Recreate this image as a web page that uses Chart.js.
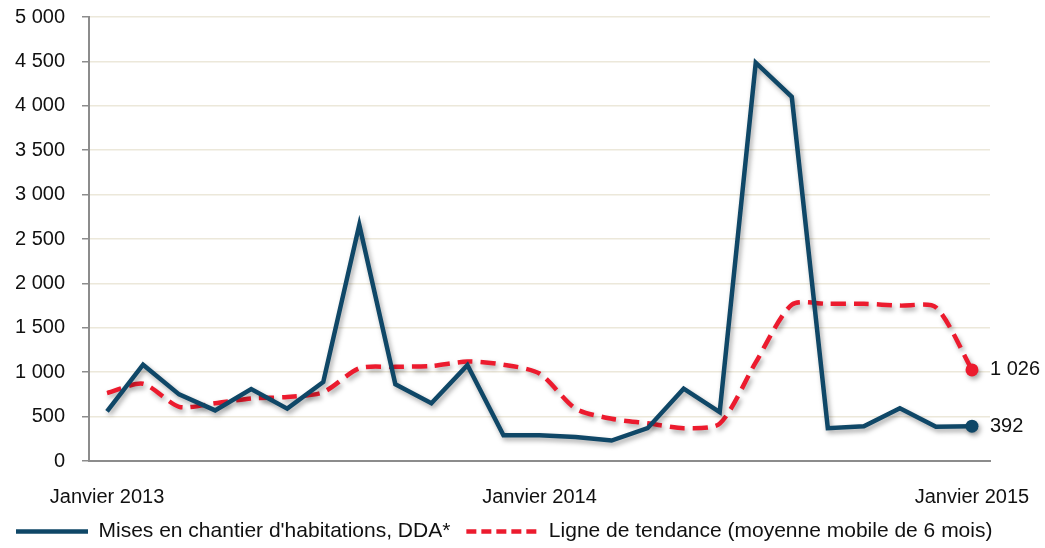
<!DOCTYPE html>
<html lang="fr">
<head>
<meta charset="utf-8">
<title>Mises en chantier d'habitations</title>
<script src="https://cdn.jsdelivr.net/npm/chart.js@4.4.1/dist/chart.umd.min.js"></script>
<style>
  html, body { margin: 0; padding: 0; background: #fff; }
  #cadre { width: 1045px; height: 548px; }
</style>
</head>
<body>
<div id="cadre"><canvas id="graphique" width="1045" height="548"></canvas></div>
<script>
const mois = [
  'Janvier 2013', 'Février 2013', 'Mars 2013', 'Avril 2013', 'Mai 2013', 'Juin 2013',
  'Juillet 2013', 'Août 2013', 'Septembre 2013', 'Octobre 2013', 'Novembre 2013', 'Décembre 2013',
  'Janvier 2014', 'Février 2014', 'Mars 2014', 'Avril 2014', 'Mai 2014', 'Juin 2014',
  'Juillet 2014', 'Août 2014', 'Septembre 2014', 'Octobre 2014', 'Novembre 2014', 'Décembre 2014',
  'Janvier 2015'
]
const misesEnChantier = [560, 1085, 750, 570, 810, 590, 890, 2660, 865, 650, 1080, 290, 290, 270, 230, 370, 815, 550, 4485, 4100, 370, 390, 595, 385, 392]
const tendance = [765, 870, 610, 650, 705, 720, 775, 1045, 1060, 1070, 1120, 1085, 985, 590, 475, 425, 370, 420, 1110, 1760, 1770, 1770, 1750, 1730, 1026]
const libelles = ["Mises en chantier d'habitations, DDA*", 'Ligne de tendance (moyenne mobile de 6 mois)']
const yMin = 0
const yMax = 5000
const yPas = 500

const police = "'Liberation Sans', Arial, Helvetica, sans-serif"
const bleu = '#0f4767'
const rouge = '#ec1b2e'
const texte = '#111111'

function formaterNombre(v) {
  return String(v).replace(/\B(?=(\d{3})+(?!\d))/g, ' ')
}

function dernierPoint(rayon) {
  return (ctx) => ctx.dataIndex === ctx.dataset.data.length - 1 ? rayon : 0
}

// ombre portee sous les courbes
const ombre = {
  id: 'ombre',
  beforeDatasetDraw(chart) {
    const ctx = chart.ctx
    ctx.save()
    ctx.shadowColor = 'rgba(0, 0, 0, 0.35)'
    ctx.shadowBlur = 5
    ctx.shadowOffsetX = 2
    ctx.shadowOffsetY = 3
  },
  afterDatasetDraw(chart) {
    chart.ctx.restore()
  }
}

// valeur de fin a droite de chaque courbe
const etiquettesFin = {
  id: 'etiquettesFin',
  afterDatasetsDraw(chart) {
    const ctx = chart.ctx
    ctx.save()
    ctx.font = '20px ' + police
    ctx.fillStyle = texte
    ctx.textBaseline = 'middle'
    ctx.textAlign = 'left'
    chart.data.datasets.forEach((ds, i) => {
      const meta = chart.getDatasetMeta(i)
      const pt = meta.data[meta.data.length - 1]
      ctx.fillText(formaterNombre(ds.data[ds.data.length - 1]), pt.x + 18, pt.y)
    })
    ctx.restore()
  }
}

Chart.defaults.font.family = police
Chart.defaults.color = texte

const data = {
  labels: mois,
  datasets: [
    {
      label: libelles[0],
      data: misesEnChantier,
      borderColor: bleu,
      backgroundColor: bleu,
      borderWidth: 4.5,
      tension: 0,
      borderJoinStyle: 'miter',
      pointRadius: dernierPoint(6.5),
      pointHoverRadius: 0,
      pointBorderWidth: 0,
      fill: false,
    },
    {
      label: libelles[1],
      data: tendance,
      borderColor: rouge,
      backgroundColor: rouge,
      borderWidth: 4.5,
      borderDash: [15, 8],
      tension: 0.25,
      pointRadius: dernierPoint(6.5),
      pointHoverRadius: 0,
      pointBorderWidth: 0,
      fill: false,
    },
  ],
}

const config = {
  type: 'line',
  data,
  plugins: [ombre, etiquettesFin],
  options: {
    responsive: false,
    animation: false,
    devicePixelRatio: 1,
    layout: {
      padding: { top: 17, right: 0, bottom: -4, left: 0 }
    },
    plugins: {
      tooltip: { enabled: false },
      legend: {
        position: 'bottom',
        align: 'start',
        labels: {
          usePointStyle: true,
          pointStyleWidth: 72,
          padding: 16,
          color: texte,
          font: { size: 21, family: police },
          generateLabels(chart) {
            return chart.data.datasets.map((ds, i) => ({
              text: ds.label,
              datasetIndex: i,
              pointStyle: 'line',
              strokeStyle: ds.borderColor,
              fillStyle: ds.borderColor,
              lineWidth: 4.5,
              lineDash: i === 1 ? [10, 5] : [],
              fontColor: texte,
              hidden: false,
            }))
          }
        }
      }
    },
    scales: {
      x: {
        offset: true,
        grid: { display: true, drawOnChartArea: false, drawTicks: false },
        border: { color: '#8c8c8c', width: 2 },
        ticks: {
          autoSkip: false,
          maxRotation: 0,
          padding: 24,
          color: texte,
          font: { size: 20 },
          callback: (v, i) => mois[i].startsWith('Janvier') ? mois[i] : ''
        },
        afterFit(scale) {
          scale.height = 44
          scale.paddingLeft = 0
          scale.paddingRight = 55
        }
      },
      y: {
        min: yMin,
        max: yMax,
        ticks: {
          stepSize: yPas,
          padding: 17,
          color: texte,
          font: { size: 20 },
          callback: (v) => formaterNombre(v)
        },
        grid: {
          color: (ctx) => ctx.tick && ctx.tick.value === 0 ? 'rgba(0,0,0,0)' : '#ece8da',
          lineWidth: 1.5,
          tickColor: '#8c8c8c',
          tickLength: 7,
          tickWidth: 1.5
        },
        border: { color: '#8c8c8c', width: 2 },
        afterFit(scale) {
          scale.width = 89
          scale.paddingTop = 0
          scale.paddingBottom = 0
        }
      }
    }
  }
}

const monGraphique = new Chart(document.getElementById('graphique').getContext('2d'), config)
</script>
</body>
</html>
